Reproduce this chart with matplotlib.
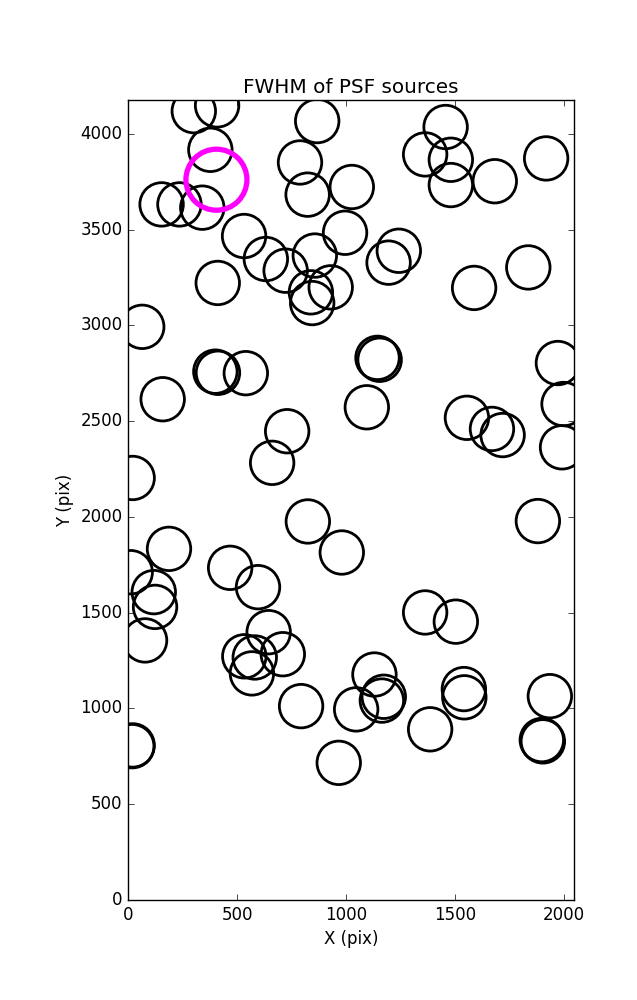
import matplotlib
matplotlib.use("Agg")
import matplotlib.pyplot as plt

plt.style.use("classic")

# PSF source positions (pixels)
src_x = [301, 408, 377, 868, 789, 824, 1027, 1458, 1364, 1482, 1482, 1684, 1920,
         153, 235, 340, 532, 632, 723, 857, 996, 1243, 1196, 411, 930, 839, 845,
         1589, 1838, 64, 1974, 1145, 1155, 400, 412, 540, 158, 1096, 1556, 1671,
         1720, 2000, 1993, 730, 661, 20, 825, 1882, 187, 981, 468, 596, 11, 117,
         123, 77, 1364, 1505, 645, 533, 581, 710, 568, 1131, 1174, 1165, 1047,
         794, 967, 1387, 1542, 1544, 1937, 1900, 1905, 20, 18]
src_y = [4118, 4148, 3916, 4066, 3850, 3682, 3722, 4035, 3892, 3864, 3732, 3752, 3871,
         3631, 3631, 3614, 3466, 3346, 3285, 3364, 3483, 3389, 3327, 3221, 3198, 3172, 3116,
         3195, 3302, 2992, 2803, 2830, 2820, 2758, 2752, 2750, 2614, 2572, 2517, 2459,
         2427, 2589, 2363, 2447, 2282, 2203, 1976, 1978, 1833, 1814, 1734, 1633, 1711, 1607,
         1530, 1355, 1501, 1453, 1398, 1272, 1266, 1283, 1183, 1177, 1061, 1041, 995,
         1012, 716, 891, 1101, 1058, 1064, 835, 828, 807, 803]

# highlighted source
hl_x = [405]
hl_y = [3760]

fig = plt.figure(figsize=(6.37, 10), dpi=100, facecolor="white")
ax = fig.add_axes([0.2014, 0.1, 0.6997, 0.8])
ax.scatter(src_x, src_y, s=980, facecolors="none", edgecolors="black", linewidths=2)
ax.scatter(hl_x, hl_y, s=1930, facecolors="none", edgecolors="magenta", linewidths=3.8)
ax.set_xlim(0, 2048)
ax.set_ylim(0, 4176)
ax.set_xticks([0, 500, 1000, 1500, 2000])
ax.set_yticks([0, 500, 1000, 1500, 2000, 2500, 3000, 3500, 4000])
ax.set_xlabel("X (pix)")
ax.set_ylabel("Y (pix)")
ax.set_title("FWHM of PSF sources")
fig.savefig("out.png", dpi=100, facecolor="white")
